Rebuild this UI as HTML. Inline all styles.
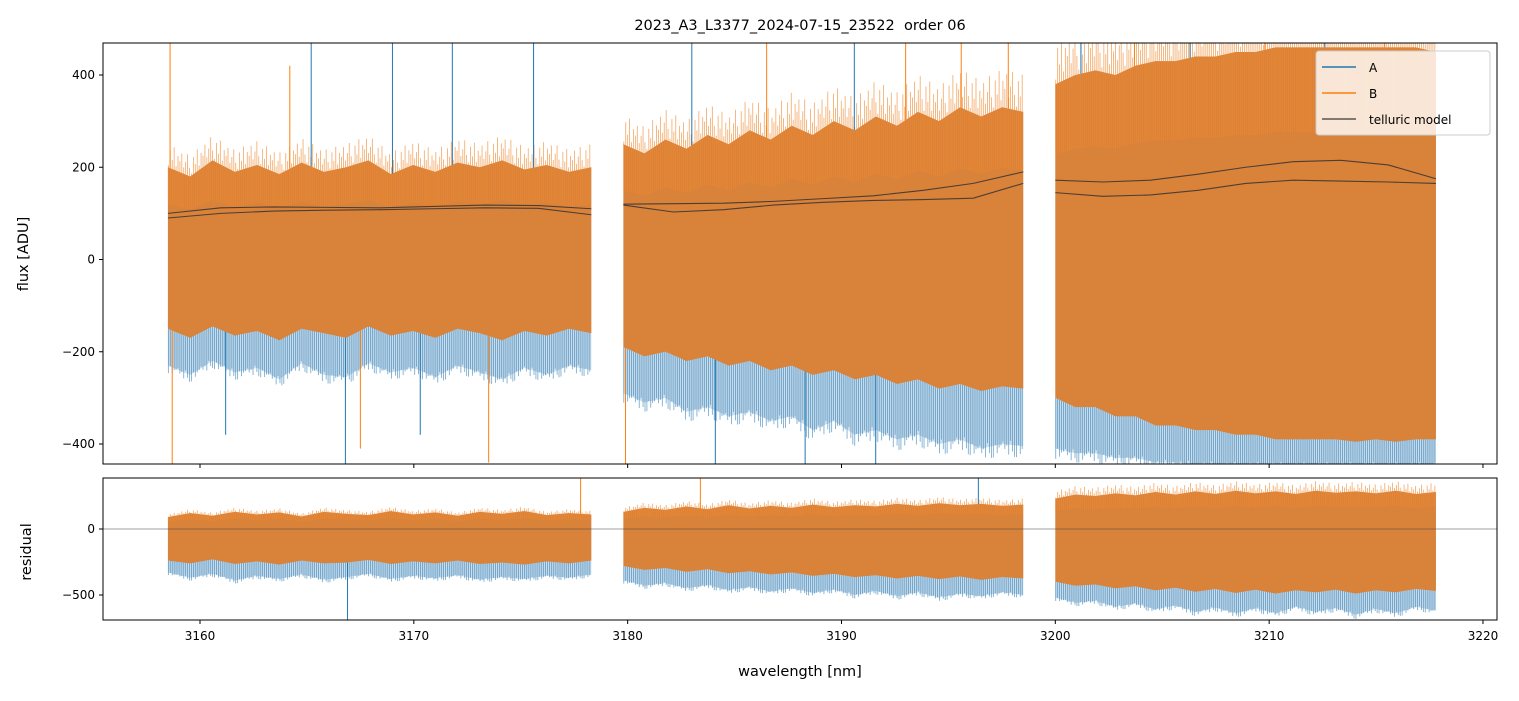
<!DOCTYPE html>
<html><head><meta charset="utf-8"><style>
body{margin:0;background:#fff;font-family:"Liberation Sans","DejaVu Sans",sans-serif}
svg text{font-family:"DejaVu Sans","Liberation Sans",sans-serif;white-space:pre}
</style></head><body>
<svg id="c" width="1519" height="696"></svg>
<script>
const segStart=[3158.5,3179.8,3200.0];
const segEnd=[3178.3,3198.5,3217.8];
// top panel envelopes (ADU), evenly spaced within each segment
const topOrangeHi=[
[200,180,215,190,205,185,210,190,200,215,185,205,190,210,200,215,195,205,190,200],
[250,230,260,240,270,250,280,260,290,270,300,280,310,290,320,300,330,310,330,320],
[380,400,410,400,420,430,430,440,440,450,450,460,460,460,460,460,460,460,460,450]];
const topOrangeLo=[
[-150,-170,-145,-165,-155,-175,-150,-160,-170,-145,-165,-155,-170,-150,-160,-175,-155,-165,-150,-160],
[-190,-210,-200,-220,-210,-230,-220,-240,-230,-250,-240,-260,-250,-270,-260,-280,-270,-285,-275,-280],
[-300,-320,-320,-340,-340,-360,-360,-370,-370,-380,-380,-390,-390,-390,-390,-395,-390,-395,-390,-390]];
const topBlueLo=[
[-230,-250,-220,-245,-235,-260,-225,-250,-255,-225,-245,-235,-255,-230,-245,-260,-235,-250,-230,-240],
[-290,-310,-300,-330,-320,-340,-330,-350,-340,-370,-350,-380,-370,-390,-380,-400,-390,-410,-400,-405],
[-410,-420,-420,-430,-430,-440,-440,-443,-443,-443,-443,-443,-443,-443,-443,-443,-443,-443,-443,-443]];
// telluric model lines
const tellUpper=[[100,112,114,113,112,115,118,117,110],[120,121,122,126,132,138,150,165,190],[172,168,172,185,200,212,215,205,175]];
const tellLower=[[90,100,105,107,108,110,112,111,97],[118,103,108,118,124,128,130,133,165],[145,137,140,150,165,172,170,168,165]];
// residual envelopes
const resOrangeHi=[
[90,120,100,130,110,125,95,130,115,105,135,110,125,100,130,115,135,105,120,110],
[130,160,145,170,150,180,155,175,160,185,165,180,170,190,175,195,180,190,175,185],
[230,260,250,270,255,280,260,285,265,290,270,285,265,290,275,285,270,290,265,280]];
const resOrangeLo=[
[-240,-260,-230,-265,-245,-270,-240,-260,-255,-235,-265,-245,-260,-240,-265,-255,-270,-245,-260,-240],
[-280,-310,-295,-325,-305,-335,-320,-345,-330,-355,-340,-365,-350,-375,-355,-380,-360,-385,-365,-375],
[-400,-430,-420,-450,-435,-465,-445,-475,-455,-485,-460,-490,-465,-480,-460,-490,-465,-480,-455,-470]];
const resBlueLo=[
[-330,-370,-340,-390,-355,-380,-345,-385,-365,-340,-380,-355,-375,-350,-385,-365,-380,-355,-370,-345],
[-390,-430,-410,-450,-425,-465,-440,-475,-450,-485,-460,-500,-470,-510,-480,-520,-490,-510,-480,-500],
[-520,-560,-545,-590,-565,-610,-580,-630,-595,-640,-600,-640,-590,-630,-600,-650,-605,-640,-590,-620]];
// notable spikes: wavelength, value, series (0=A,1=B), panel (0 top,1 residual)
const spikeWl=[3158.6,3165.2,3169.0,3171.8,3173.5,3175.6,3166.8,3164.2,3179.9,3184.1,3186.5,3190.6,3193.0,3195.6,3197.8,3188.3,3201.2,3203.7,3206.3,3209.8,3212.6,3215.4,3183.4,3196.4,3166.9,3177.8,3167.5,3161.2,3183.0,3191.6,3170.3,3158.7];
const spikeVal=[469,469,469,469,-440,469,-443,420,-443,-443,469,469,469,469,469,-443,469,469,469,469,469,469,386,386,-689,386,-410,-380,469,-443,-380,-443];
const spikeSer=[1,0,0,0,1,0,0,1,1,0,1,0,1,1,1,0,0,1,0,1,0,1,1,0,0,1,1,0,0,0,0,1];
const spikePanel=[0,0,0,0,0,0,0,0,0,0,0,0,0,0,0,0,0,0,0,0,0,0,1,1,1,1,0,0,0,0,0,0];
const xTicks=[3160,3170,3180,3190,3200,3210,3220];
const topTicks=[-400,-200,0,200,400];
const resTicks=[-500,0];

const NS="http://www.w3.org/2000/svg",svg=document.getElementById('c');
const X=w=>200+(w-3160)*21.383;
const Yt=v=>259.5-v*0.46125;
const Yr=v=>529-v*0.132;
function el(t,a,p){const e=document.createElementNS(NS,t);for(const k in a)e.setAttribute(k,a[k]);(p||svg).appendChild(e);return e;}
const defs=el('defs',{});
const c1=el('clipPath',{id:'ct'},defs);el('rect',{x:103,y:43,width:1394,height:421},c1);
const c2=el('clipPath',{id:'cr'},defs);el('rect',{x:103,y:478,width:1394,height:142},c2);
const gT=el('g',{'clip-path':'url(#ct)'});
const gR=el('g',{'clip-path':'url(#cr)'});
function interp(arr,s,w){const a=segStart[s],b=segEnd[s],f=(w-a)/(b-a)*(arr.length-1);const i=Math.max(0,Math.min(arr.length-2,Math.floor(f))),t=f-i;return arr[i]*(1-t)+arr[i+1]*t;}
function band(g,Y,hi,lo,s,fill,op,name){
  const n=hi.length,a=segStart[s],b=segEnd[s];let pts=[];
  for(let i=0;i<n;i++)pts.push(X(a+(b-a)*i/(n-1))+','+Y(hi[i]));
  for(let i=n-1;i>=0;i--)pts.push(X(a+(b-a)*i/(n-1))+','+Y(lo[i]));
  const p=el('polygon',{points:pts.join(' '),fill:fill,'fill-opacity':op},g);
  
}
// texture pattern (styling only, not data)
const tex=[0.55,0.9,0.7,1.0,0.6,0.85,0.75,0.95,0.65,0.8,1.0,0.7];
function texture(g,Y,hi,lo,blo,s,name){
  const a=segStart[s],b=segEnd[s];let k=0;
  for(let w=a+0.02;w<b;w+=0.09,k++){
    const h=interp(hi,s,w),l=interp(lo,s,w),bl=interp(blo,s,w),f=tex[k%12],f2=tex[(k*5+3)%12];
    const e1=el('line',{x1:X(w),x2:X(w),y1:Y(h*0.6),y2:Y(h*(0.75+0.5*f)),stroke:'#f08a30','stroke-width':0.8,opacity:0.75},g);
    
    const e2=el('line',{x1:X(w),x2:X(w),y1:Y(l),y2:Y(l+(bl-l)*(0.6+0.6*f2)),stroke:'#2f7fb8','stroke-width':0.8,opacity:0.7},g);
    
  }
}
for(let s=0;s<3;s++){
  band(gT,Yt,topOrangeHi[s],topBlueLo[s],s,'#6a9cc4',0.35,'series-a-band');
  band(gT,Yt,topOrangeHi[s],topOrangeLo[s],s,'#d9823a',1,'series-b-band');
  texture(gT,Yt,topOrangeHi[s],topOrangeLo[s],topBlueLo[s],s,'flux-texture');
  band(gR,Yr,resOrangeHi[s],resBlueLo[s],s,'#6a9cc4',0.35,'residual-a-band');
  band(gR,Yr,resOrangeHi[s],resOrangeLo[s],s,'#d9823a',1,'residual-b-band');
  texture(gR,Yr,resOrangeHi[s],resOrangeLo[s],resBlueLo[s],s,'residual-texture');
}
for(let i=0;i<spikeWl.length;i++){
  const top=spikePanel[i]==0,Y=top?Yt:Yr;
  let s=0;for(let j=0;j<3;j++)if(spikeWl[i]>=segStart[j]-0.2)s=j;
  const w=Math.min(Math.max(spikeWl[i],segStart[s]),segEnd[s]);
  const base=spikeVal[i]>0?interp((top?topOrangeHi:resOrangeHi)[s],s,w):interp((top?topOrangeLo:resOrangeLo)[s],s,w);
  const l=el('line',{x1:X(spikeWl[i]),x2:X(spikeWl[i]),y1:Y(base),y2:Y(spikeVal[i]),stroke:spikeSer[i]?'#ff7f0e':'#1f77b4','stroke-width':1},top?gT:gR);
  
}
for(let s=0;s<3;s++){
  for(const arr of [tellUpper[s],tellLower[s]]){
    const n=arr.length,a=segStart[s],b=segEnd[s];
    const pts=arr.map((v,i)=>X(a+(b-a)*i/(n-1))+','+Yt(v)).join(' ');
    const p=el('polyline',{points:pts,fill:'none',stroke:'#333','stroke-width':1.1,opacity:0.85},gT);
    
  }
}
const z=el('line',{x1:103,x2:1497,y1:Yr(0),y2:Yr(0),stroke:'#444','stroke-width':0.6});

for(const r of [[103,43,1394,421,'flux-axes-frame'],[103,478,1394,142,'residual-axes-frame']]){
  const f=el('rect',{x:r[0],y:r[1],width:r[2],height:r[3],fill:'none',stroke:'#000','stroke-width':1});
  
}
function txt(x,y,s,o,name){const t=el('text',Object.assign({x:x,y:y,'font-size':12,fill:'#000'},o||{}));t.textContent=s;return t;}
for(const v of xTicks){
  el('line',{x1:X(v),x2:X(v),y1:464,y2:468,stroke:'#000'});
  el('line',{x1:X(v),x2:X(v),y1:620,y2:624,stroke:'#000'});
  txt(X(v),640,v,{'text-anchor':'middle'},'x-tick-label');
}
for(const v of topTicks){el('line',{x1:99,x2:103,y1:Yt(v),y2:Yt(v),stroke:'#000'});txt(95,Yt(v)+4,String(v).replace('-','\u2212'),{'text-anchor':'end'},'y-tick-label');}
for(const v of resTicks){el('line',{x1:99,x2:103,y1:Yr(v),y2:Yr(v),stroke:'#000'});txt(95,Yr(v)+4,String(v).replace('-','\u2212'),{'text-anchor':'end'},'residual-tick-label');}
txt(800,30,'2023_A3_L3377_2024-07-15_23522  order 06',{'text-anchor':'middle','font-size':14.5},'chart-title');
txt(800,676,'wavelength [nm]',{'text-anchor':'middle','font-size':14.5},'x-axis-title');
txt(28,254,'flux [ADU]',{'text-anchor':'middle','font-size':14.5,transform:'rotate(-90 28 254)'},'y-axis-title');
txt(31,552,'residual',{'text-anchor':'middle','font-size':14.5,transform:'rotate(-90 31 552)'},'residual-axis-title');
const lg=el('g',{});
el('rect',{x:1316,y:51,width:174,height:84,rx:3,fill:'#fff','fill-opacity':0.8,stroke:'#ccc'},lg);
const items=[['A','#1f77b4'],['B','#ff7f0e'],['telluric model','#555']];
items.forEach((it,i)=>{const y=67+i*26;
  el('line',{x1:1322,x2:1356,y1:y,y2:y,stroke:it[1],'stroke-width':1.5},lg);
  const t=txt(1369,y+5,it[0],{},'legend-entry');lg.appendChild(t);});
</script>
</body></html>
